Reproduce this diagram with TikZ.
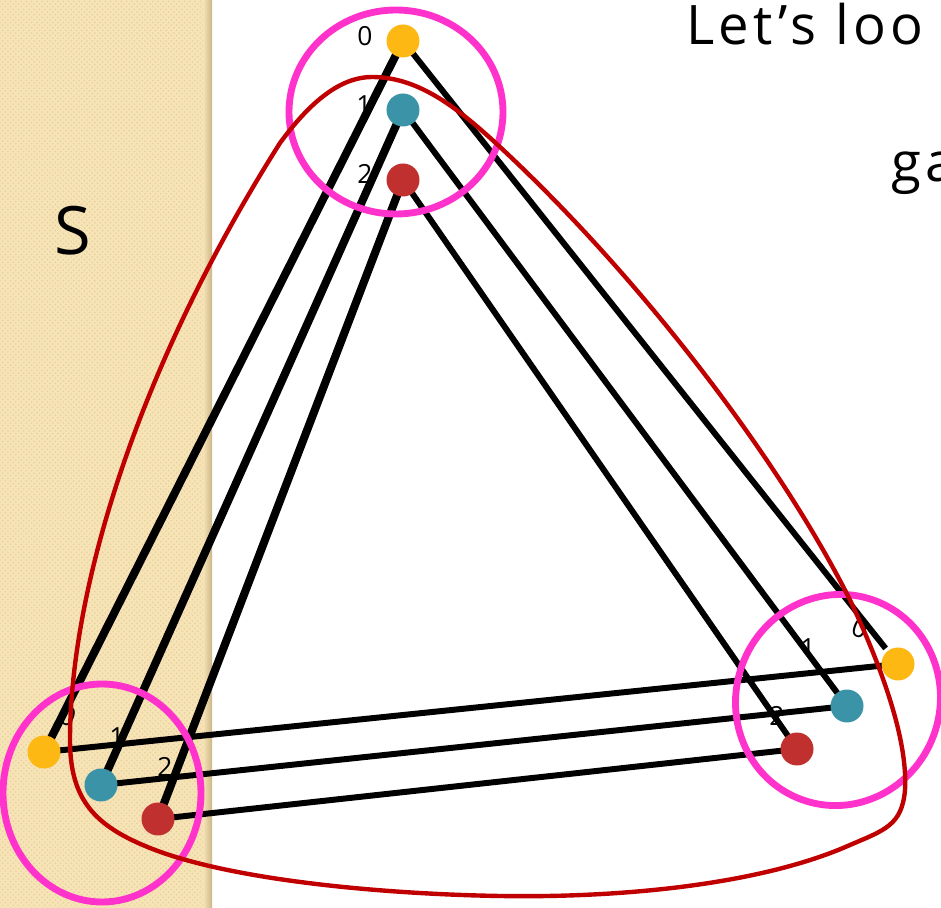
\documentclass[tikz,border=0pt]{standalone}
\usepackage{fontspec}
\setmainfont{Open Sans}
\usetikzlibrary{patterns,calc}
\definecolor{tanbg}{HTML}{F6E3B6}
\definecolor{tandk}{HTML}{E9D09C}
\definecolor{tanedge}{HTML}{CDB686}
\definecolor{ydot}{HTML}{FDB813}
\definecolor{tdot}{HTML}{3B93A8}
\definecolor{rdot}{HTML}{C0302F}
\definecolor{mag}{HTML}{FF33CC}
\definecolor{rcurve}{HTML}{C00000}
\tikzset{
  dotnode/.style={circle, inner sep=0pt, minimum size=0.66cm},
  lab/.style={font=\fontsize{15}{15}\selectfont, inner sep=0pt},
  titletext/.style={anchor=base west, inner sep=0pt, font=\fontsize{31}{31}\selectfont\addfontfeature{LetterSpace=8}},
  thickline/.style={line width=4.6pt, black},
  thinline/.style={line width=3.4pt, black},
  ring/.style={mag, line width=3.9pt},
  setcurve/.style={rcurve, line width=2.5pt},
}
\begin{document}
\begin{tikzpicture}[x=0.02cm, y=-0.02cm]
\clip (0,0) rectangle (941,908);
\fill[white] (0,0) rectangle (941,908);
% tan strip
\fill[tanbg] (0,0) rectangle (212,908);
\fill[pattern=crosshatch dots, pattern color=tandk] (0,0) rectangle (206,908);
\shade[left color=tanbg, right color=tanedge] (203,0) rectangle (212,908);
\node[anchor=base west, font=\fontsize{38}{38}\selectfont, inner sep=0pt] (S) at (54,255) {S};
% title text
\node[titletext] (title1) at (686,45) {Let’s loo};
\node[titletext] (title2) at (891,182) {ga};
% labels
\node[lab] (lt0) at (365,36) {0};
\node[lab] (lt1) at (364,105) {1};
\node[lab] (lt2) at (365,174) {2};
\node[lab, rotate=-20] (ll0) at (68,716) {0};
\node[lab] (ll1) at (117,737) {1};
\node[lab] (ll2) at (165,767) {2};
\node[lab, rotate=-20] (lr0) at (860,628) {0};
\node[lab] (lr1) at (808,648) {1};
\node[lab] (lr2) at (777,716) {2};
% dot coordinates
\coordinate (t0) at (403,41);
\coordinate (t1) at (403,110);
\coordinate (t2) at (403,180);
\coordinate (a0) at (44,752);
\coordinate (a1) at (101,785);
\coordinate (a2) at (158,819);
\coordinate (b0) at (898,664);
\coordinate (b1) at (847,706);
\coordinate (b2) at (797,749);
\coordinate (b0e) at ($(t0)!0.975!(b0)$);
% edges
\draw[thickline] (t0) -- (a0);
\draw[thickline] (t1) -- (a1);
\draw[thickline] (t2) -- (a2);
\draw[thinline] (t0) -- (b0e);
\draw[thinline] (t1) -- (b1);
\draw[thinline] (t2) -- (b2);
\draw[thinline] (a0) -- (b0);
\draw[thinline] (a1) -- (b1);
\draw[thinline] (a2) -- (b2);
% dots
\node[dotnode, fill=ydot] (T0) at (t0) {};
\node[dotnode, fill=tdot] (T1) at (t1) {};
\node[dotnode, fill=rdot] (T2) at (t2) {};
\node[dotnode, fill=ydot] (A0) at (a0) {};
\node[dotnode, fill=tdot] (A1) at (a1) {};
\node[dotnode, fill=rdot] (A2) at (a2) {};
\node[dotnode, fill=ydot] (B0) at (b0) {};
\node[dotnode, fill=tdot] (B1) at (b1) {};
\node[dotnode, fill=rdot] (B2) at (b2) {};
% magenta rings
\draw[ring] (396,112) ellipse [x radius=107, y radius=102];
\draw[ring] (102,793) ellipse [x radius=99, y radius=109];
\draw[ring, rotate around={-20:(838,700)}] (838,700) ellipse [x radius=102, y radius=106];
% red set curve
\draw[setcurve] (280,143) .. controls (315,95) and (345,77) .. (372,77)
  .. controls (420,77) and (460,110) .. (500,147)
  .. controls (640,277) and (780,460) .. (850,600)
  .. controls (882,668) and (908,740) .. (905,790)
  .. controls (902,825) and (885,830) .. (850,845)
  .. controls (760,885) and (620,898) .. (500,896)
  .. controls (380,894) and (230,880) .. (150,848)
  .. controls (95,826) and (70,800) .. (70,740)
  .. controls (70,600) and (130,380) .. (280,143) -- cycle;
\end{tikzpicture}
\end{document}
